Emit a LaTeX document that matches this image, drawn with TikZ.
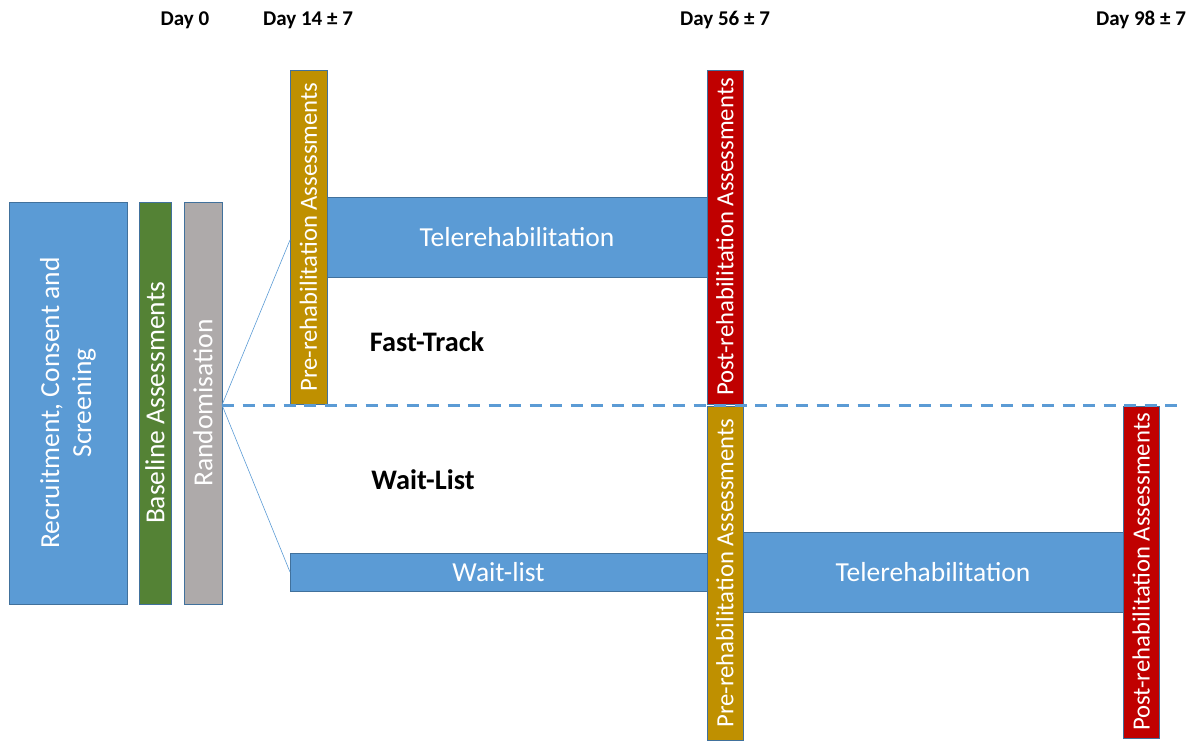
\documentclass[tikz,border=0pt]{standalone}
\usepackage{fontspec}
\setmainfont{Carlito}
\usetikzlibrary{positioning}

\definecolor{boxblue}{HTML}{5B9BD5}
\definecolor{edgeblue}{HTML}{41719C}
\definecolor{basegreen}{HTML}{548235}
\definecolor{randgrey}{HTML}{AEAAAA}
\definecolor{pregold}{HTML}{BF9000}
\definecolor{postred}{HTML}{C00000}

\begin{document}
\begin{tikzpicture}[x=1pt,y=-1pt]
            \tikzset{every node/.style={inner sep=0pt, outer sep=0pt},
                    block/.style={rectangle, draw=edgeblue, line width=0.9pt, text=white,
                                  font=\fontsize{27.5}{32}\selectfont},
                    upbox/.style={block, rotate=90, font=\fontsize{24.7}{29}\selectfont},
                    daytext/.style={font=\fontsize{21}{25}\selectfont\bfseries},
                    armtext/.style={font=\fontsize{28.3}{32}\selectfont\bfseries},
                    link/.style={draw=boxblue, line width=0.6pt}}
            \useasboundingbox (0,0) rectangle (1196,740);
            % timeline
            \node[daytext] (d0) at (185, 20) {Day 0};
            \node[daytext] (d14) at (308, 20) {Day 14 ± 7};
            \node[daytext] (d56) at (725, 20) {Day 56 ± 7};
            \node[daytext] (d98) at (1141, 20) {Day 98 ± 7};
            % common start
            \node[block, rotate=90, fill=boxblue, minimum width=402pt, minimum height=118pt, align=center]
                (recruit) at (68, 403) {Recruitment, Consent and\\Screening};
            \node[block, rotate=90, fill=basegreen, minimum width=402pt, minimum height=32pt]
                (baseline) at (155, 403) {Baseline Assessments};
            \node[block, rotate=90, fill=randgrey, minimum width=402pt, minimum height=38pt]
                (rand) at (203, 403) {Randomisation};
            % fast-track arm
            \node[block, fill=boxblue, minimum width=380pt, minimum height=80pt]
                (tele1) at (517, 237) {Telerehabilitation};
            \node[upbox, fill=pregold, minimum width=334pt, minimum height=37pt]
                (pre1) at (308.5, 237) {Pre-rehabilitation Assessments};
            \node[upbox, fill=postred, minimum width=334pt, minimum height=36pt]
                (post1) at (725, 237) {Post-rehabilitation Assessments};
            \node[armtext] (fast) at (427, 342) {Fast-Track};
            % wait-list arm
            \node[block, fill=boxblue, minimum width=417pt, minimum height=38pt]
                (wait) at (498.5, 572) {Wait-list};
            \node[block, fill=boxblue, minimum width=380pt, minimum height=80pt]
                (tele2) at (933, 572) {Telerehabilitation};
            \node[upbox, fill=pregold, minimum width=334pt, minimum height=36pt]
                (pre2) at (725, 573) {Pre-rehabilitation Assessments};
            \node[upbox, fill=postred, minimum width=332pt, minimum height=36pt]
                (post2) at (1141, 572) {Post-rehabilitation Assessments};
            \node[armtext] (waitarm) at (423, 480) {Wait-List};
            % allocation
            \coordinate (split) at (222, 405);
            \coordinate (fastin) at (290, 240);
            \coordinate (dashend) at (1185, 405);
            \path[link] (split) -- (fastin);
            \path[link] (split) -- (wait.west);
            \draw[boxblue, line width=3pt, dash pattern=on 12pt off 8.5pt] (split) -- (dashend);
        \end{tikzpicture}
\end{document}
